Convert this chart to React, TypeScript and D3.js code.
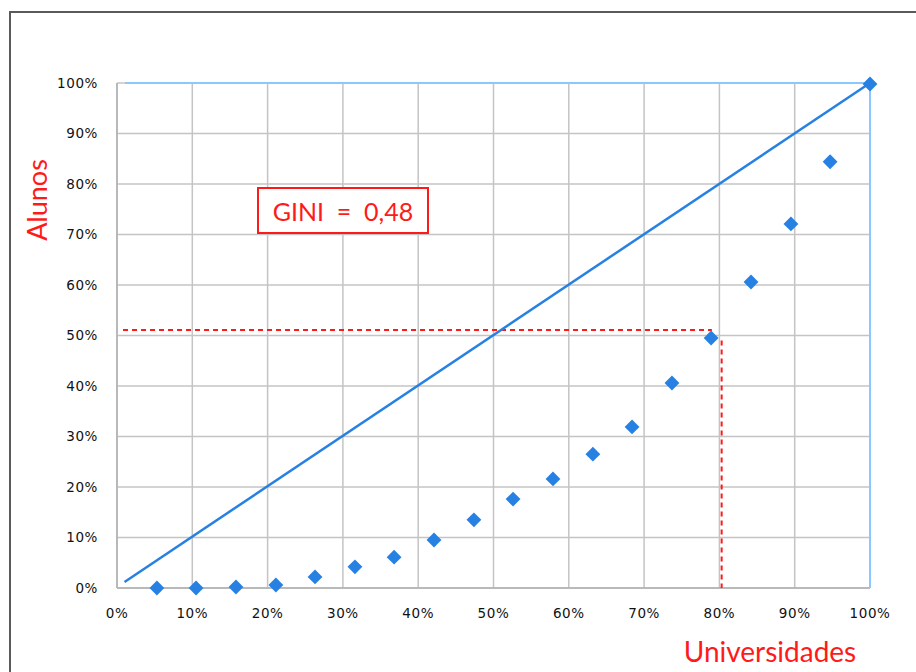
import React from "react";
import * as d3 from "d3";

// Lorenz curve points (share of universities, share of students), in %
const lorenzX = [5.3, 10.5, 15.8, 21.1, 26.3, 31.6, 36.8, 42.1, 47.4, 52.6, 57.9, 63.2, 68.4, 73.7, 78.9, 84.2, 89.5, 94.7, 100];
const lorenzY = [0, 0, 0.2, 0.6, 2.2, 4.2, 6.1, 9.5, 13.5, 17.6, 21.6, 26.5, 31.9, 40.6, 49.5, 60.6, 72.1, 84.4, 99.8];

// Line of equality
const equalityX = [1, 100];
const equalityY = [1.2, 100];

// Reference dashed lines (%)
const refHX = [0.8, 79];
const refHY = 51.1;
const refVX = 80.3;
const refVY = [49, 0];

const ticks = [0, 10, 20, 30, 40, 50, 60, 70, 80, 90, 100];
const tickLabels = ticks.map((t) => `${t}%`);

const giniLabel = "GINI  =  0,48";
const yTitle = "Alunos";
const xTitle = "Universidades";

export default function App() {
  const W = 916;
  const H = 672;
  const left = 117;
  const right = 870;
  const top = 83;
  const bottom = 588;

  const x = d3.scaleLinear().domain([0, 100]).range([left, right]);
  const y = d3.scaleLinear().domain([0, 100]).range([bottom, top]);

  const eqLine = d3
    .line<number>()
    .x((d, i) => x(equalityX[i]))
    .y((d, i) => y(equalityY[i]));

  const diamond = d3.symbol().type(d3.symbolDiamond2).size(140)();

  const blue = "#2781e3";
  const red = "#ff1a1a";
  const grid = "#c4c4c4";
  const tickFont = "'DejaVu Sans', Verdana, sans-serif";
  const titleFont = "Lato, 'Open Sans', sans-serif";

  return (
    <svg
      width={W}
      height={H}
      style={{ position: "absolute", left: 0, top: 0, background: "#fff" }}
    >
      {/* outer frame */}
      <path d={`M10,${H} L10,12 L${W},12`} fill="none" stroke="#5a5a5a" strokeWidth={2} />

      {/* grid */}
      {ticks.map((t) => (
        <line key={"gx" + t} x1={x(t)} x2={x(t)} y1={y(0)} y2={y(100)} stroke={grid} strokeWidth={1.5} />
      ))}
      {ticks.map((t) => (
        <line key={"gy" + t} x1={x(0)} x2={x(100)} y1={y(t)} y2={y(t)} stroke={grid} strokeWidth={1.5} />
      ))}
      {/* axes */}
      <line x1={x(0)} x2={x(0)} y1={y(0)} y2={y(100)} stroke="#b0b0b0" strokeWidth={1.5} />
      <line x1={x(0)} x2={x(100)} y1={y(0)} y2={y(0)} stroke="#b0b0b0" strokeWidth={1.5} />
      {/* light blue top/right plot border */}
      <path d={`M${x(0) + 8},${y(100)} L${x(100)},${y(100)} L${x(100)},${y(0)}`} fill="none" stroke="#8cc8ff" strokeWidth={2} />

      {/* tick labels */}
      {ticks.map((t, i) => (
        <text key={"ty" + t} x={98} y={y(t)} dy="0.36em" textAnchor="end" fontFamily={tickFont} fontSize={13.5} letterSpacing={0.6} fill="#111">
          {tickLabels[i]}
        </text>
      ))}
      {ticks.map((t, i) => (
        <text key={"tx" + t} x={x(t)} y={618} textAnchor="middle" fontFamily={tickFont} fontSize={13.5} letterSpacing={0.6} fill="#111">
          {tickLabels[i]}
        </text>
      ))}

      {/* red dashed reference lines */}
      <line x1={x(refHX[0])} x2={x(refHX[1])} y1={y(refHY)} y2={y(refHY)} stroke={red} strokeWidth={2} strokeDasharray="5,4" />
      <line x1={x(refVX)} x2={x(refVX)} y1={y(refVY[0])} y2={y(refVY[1])} stroke={red} strokeWidth={2} strokeDasharray="5,4" />

      {/* equality line */}
      <path d={eqLine(equalityX) || ""} fill="none" stroke={blue} strokeWidth={2.5} />

      {/* Lorenz points */}
      {lorenzX.map((v, i) => (
        <path key={"p" + i} d={diamond || ""} transform={`translate(${x(v)},${y(lorenzY[i])})`} fill={blue} />
      ))}

      {/* GINI box */}
      <rect x={258} y={188} width={170} height={45} fill="#fff" stroke={red} strokeWidth={2} />
      <text x={343} y={221} textAnchor="middle" fontFamily={titleFont} fontSize={25} fill={red} style={{ whiteSpace: "pre" }}>
        {giniLabel}
      </text>

      {/* axis titles */}
      <text transform="translate(47,200) rotate(-90)" textAnchor="middle" fontFamily={titleFont} fontSize={27} fill={red}>
        {yTitle}
      </text>
      <text x={770} y={662} textAnchor="middle" fontFamily={titleFont} fontSize={28} fill={red}>
        {xTitle}
      </text>
    </svg>
  );
}
